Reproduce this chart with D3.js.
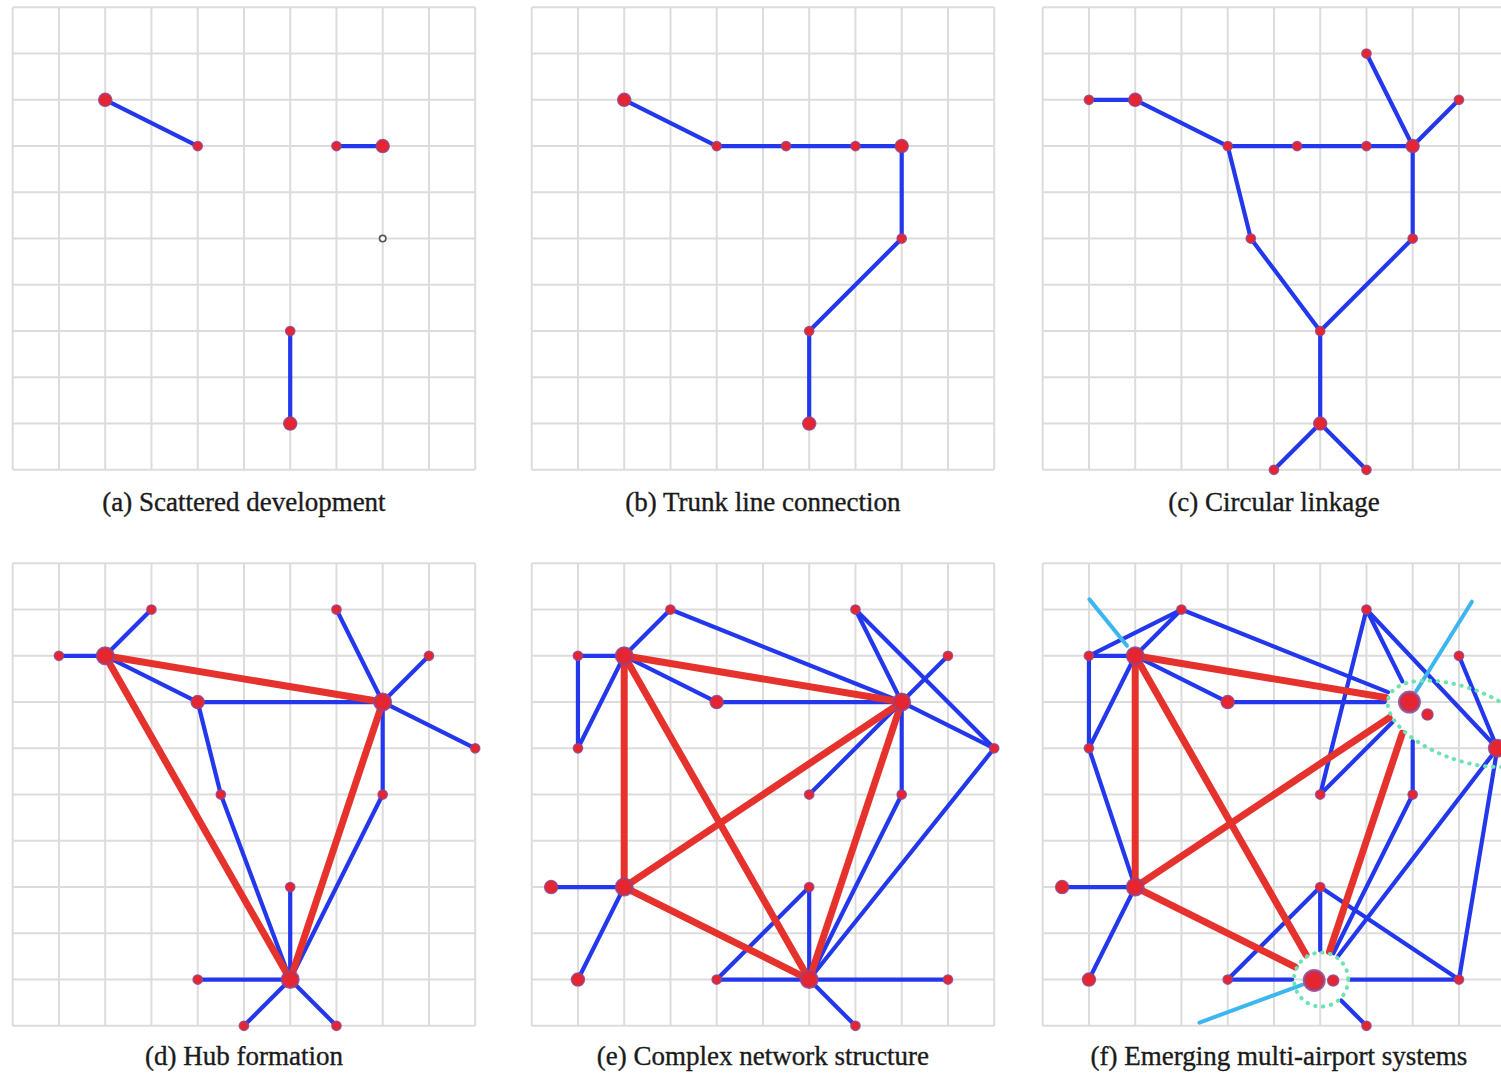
<!DOCTYPE html>
<html><head><meta charset="utf-8">
<script src="https://cdn.jsdelivr.net/npm/d3@7"></script>
<style>html,body{margin:0;padding:0;background:#fff;overflow:hidden}</style>
</head><body>
<svg id="chart" width="1501" height="1074"></svg>
<script>
// ---------------- DATA ----------------
const panelTitles = [
  "(a) Scattered development",
  "(b) Trunk line connection",
  "(c) Circular linkage",
  "(d) Hub formation",
  "(e) Complex network structure",
  "(f) Emerging multi-airport systems"
];
const gridTicks = d3.range(0, 11);

// nodes: [col, row, size class]
const nodesA = [[2,2,"m"],[4,3,"s"],[7,3,"s"],[8,3,"m"],[6,7,"s"],[6,9,"m"]];
const hollowA = [[8,5]];
const blueA = [[2,2,4,3],[7,3,8,3],[6,7,6,9]];

const nodesB = [[2,2,"m"],[4,3,"s"],[5.5,3,"s"],[7,3,"s"],[8,3,"m"],[8,5,"s"],[6,7,"s"],[6,9,"m"]];
const blueB = [[2,2,4,3],[4,3,5.5,3],[5.5,3,7,3],[7,3,8,3],[8,3,8,5],[8,5,6,7],[6,7,6,9]];

const nodesC = [[1,2,"s"],[2,2,"m"],[4,3,"s"],[5.5,3,"s"],[7,3,"s"],[8,3,"m"],[7,1,"s"],[9,2,"s"],
  [4.5,5,"s"],[8,5,"s"],[6,7,"s"],[6,9,"m"],[5,10,"s"],[7,10,"s"]];
const blueC = [[1,2,2,2],[2,2,4,3],[4,3,5.5,3],[5.5,3,7,3],[7,3,8,3],[7,1,8,3],[9,2,8,3],
  [4,3,4.5,5],[8,3,8,5],[4.5,5,6,7],[8,5,6,7],[6,7,6,9],[6,9,5,10],[6,9,7,10]];

const nodesD = [[2,2,"l"],[1,2,"s"],[3,1,"s"],[4,3,"m"],[8,3,"l"],[7,1,"s"],[9,2,"s"],[10,4,"s"],
  [8,5,"s"],[4.5,5,"s"],[6,9,"l"],[6,7,"s"],[4,9,"s"],[5,10,"s"],[7,10,"s"]];
const blueD = [[2,2,1,2],[2,2,3,1],[2,2,4,3],[4,3,8,3],[8,3,7,1],[8,3,9,2],[8,3,10,4],[8,3,8,5],
  [4,3,4.5,5],[4.5,5,6,9],[8,5,6,9],[6,7,6,9],[4,9,6,9],[5,10,6,9],[7,10,6,9]];
const redD = [[2,2,8,3],[2,2,6,9],[8,3,6,9]];

const nodesE = [[2,2,"l"],[1,2,"s"],[1,4,"s"],[3,1,"s"],[4,3,"m"],[8,3,"l"],[7,1,"s"],[9,2,"s"],
  [10,4,"s"],[6,5,"s"],[8,5,"s"],[2,7,"l"],[0.42,7,"m"],[1,9,"m"],[6,9,"l"],[6,7,"s"],[4,9,"s"],
  [9,9,"s"],[7,10,"s"]];
const blueE = [[2,2,1,2],[1,2,1,4],[1,4,2,2],[2,2,3,1],[3,1,8,3],[2,2,4,3],[4,3,8,3],[7,1,8,3],
  [7,1,10,4],[9,2,8,3],[8,3,6,5],[8,3,10,4],[8,3,8,5],[8,5,6,9],[10,4,6,9],[2,7,0.42,7],[2,7,1,9],
  [6,7,6,9],[6,7,4,9],[4,9,6,9],[6,9,9,9],[6,9,7,10]];
const redE = [[2,2,8,3],[2,2,2,7],[2,2,6,9],[2,7,8,3],[2,7,6,9],[8,3,6,9]];

const nodesF = [[2,2,"l"],[1,2,"s"],[3,1,"s"],[1,4,"s"],[4,3,"m"],[7.93,3,"xl"],[8.32,3.27,"sat"],
  [7,1,"s"],[9,2,"s"],[6,5,"s"],[8,5,"s"],[9.83,4,"l"],[2,7,"l"],[0.42,7,"m"],[1,9,"m"],[6,7,"s"],
  [4,9,"s"],[5.87,9.02,"xl"],[6.28,9.02,"sat"],[9,9,"s"],[7,10,"s"]];
const blueF = [[2,2,1,2],[2,2,3,1],[1,2,3,1],[1,2,1,4],[1,4,2,2],[1,4,2,7],[2,2,4,3],[4,3,8,3],
  [3,1,8,3],[7,1,8,3],[7,1,6,5],[6,5,8,3],[7,1,9.83,4],[9,2,9.83,4],[8,3,8,5],[8,5,6,9],
  [9.83,4,6,9],[9.83,4,9,9],[2,7,0.42,7],[2,7,1,9],[6,7,4,9],[6,7,6,9],[6,7,9,9],[4,9,6,9],
  [9,9,6,9],[7,10,6,9]];
const redF = [[2,2,8,3],[2,2,2,7],[2,2,6,9],[2,7,8,3],[2,7,6,9],[8,3,6,9]];
const cyanF = [[1.01,0.78,2,2],[9.28,0.83,7.93,3],[3.39,9.93,5.87,9.02]];
// multi-airport clusters: ellipse [cx, cy, rx, ry, rotation°] and circle [cx, cy, r] in grid units
const clusterEllipseF = [9.07, 3.47, 1.69, 0.78, 20];
const clusterCircleF = [6.02, 9.0, 0.585];
const clusterAnchorsF = [[8,3],[6,9]];

// ---------------- LAYOUT / STYLE ----------------
const W = 1501, H = 1074;
const panelSize = 462.5;
const colLeft = [12.7, 531.7, 1042.7];
const rowTop = [7.3, 563.3];
const captionBase = [510.5, 1065];
const captionShift = [0, 0, 0, 0, 0, 5];
const radius = {s:4.6, m:6.5, l:8.5, xl:10, sat:5.5};
const C_BLUE = "#2338ec", C_RED = "#e6322d", C_CYAN = "#3db6ef", C_GREEN = "#6ee3b2";

const svg = d3.select("#chart");

const panels = [
  {nodes:nodesA, blue:blueA, red:[], hollow:hollowA},
  {nodes:nodesB, blue:blueB, red:[]},
  {nodes:nodesC, blue:blueC, red:[]},
  {nodes:nodesD, blue:blueD, red:redD},
  {nodes:nodesE, blue:blueE, red:redE},
  {nodes:nodesF, blue:blueF, red:redF, cyan:cyanF, ellipse:clusterEllipseF, circle:clusterCircleF}
];

panels.forEach((p, k) => {
  const col = k % 3, row = Math.floor(k / 3);
  const x0 = colLeft[col], y0 = rowTop[row];
  const x = d3.scaleLinear().domain([0, 10]).range([x0, x0 + panelSize]);
  const y = d3.scaleLinear().domain([0, 10]).range([y0, y0 + panelSize]);
  const g = svg.append("g");

  // grid
  const gg = g.append("g").attr("stroke", "#dcdcdc").attr("stroke-width", 2);
  gg.selectAll("line.v").data(gridTicks).join("line").attr("class","v")
    .attr("x1", d => x(d)).attr("x2", d => x(d)).attr("y1", y(0)).attr("y2", y(10));
  gg.selectAll("line.h").data(gridTicks).join("line").attr("class","h")
    .attr("y1", d => y(d)).attr("y2", d => y(d)).attr("x1", x(0)).attr("x2", x(10));

  const scalePx = panelSize / 10;
  function trimDist(ax, ay, bx, by) {
    if (!p.ellipse) return 0;
    const isB = clusterAnchorsF[0][0] === ax && clusterAnchorsF[0][1] === ay;
    const isC = clusterAnchorsF[1][0] === ax && clusterAnchorsF[1][1] === ay;
    if (!isB && !isC) return 0;
    const Px = x(ax), Py = y(ay);
    let dx = x(bx) - Px, dy = y(by) - Py;
    const L = Math.hypot(dx, dy); dx /= L; dy /= L;
    if (isB) {
      const [cx, cy, rxg, ryg, ang] = p.ellipse;
      const rx = rxg * scalePx, ry = ryg * scalePx, t = ang * Math.PI / 180;
      const qx = Px - x(cx), qy = Py - y(cy);
      const qu = qx*Math.cos(t) + qy*Math.sin(t), qv = -qx*Math.sin(t) + qy*Math.cos(t);
      const du = dx*Math.cos(t) + dy*Math.sin(t), dv = -dx*Math.sin(t) + dy*Math.cos(t);
      const A = du*du/(rx*rx) + dv*dv/(ry*ry);
      const B = 2*(qu*du/(rx*rx) + qv*dv/(ry*ry));
      const Cc = qu*qu/(rx*rx) + qv*qv/(ry*ry) - 1;
      return (-B + Math.sqrt(B*B - 4*A*Cc)) / (2*A) + 3;
    } else {
      const [cx, cy, rg] = p.circle;
      const r = rg * scalePx;
      const qx = Px - x(cx), qy = Py - y(cy);
      const B = 2*(qx*dx + qy*dy), Cc = qx*qx + qy*qy - r*r;
      return (-B + Math.sqrt(B*B - 4*Cc)) / 2 + 2;
    }
  }
  function seg(e) {
    const [ax, ay, bx, by] = e;
    let X1 = x(ax), Y1 = y(ay), X2 = x(bx), Y2 = y(by);
    const L = Math.hypot(X2 - X1, Y2 - Y1);
    const ux = (X2 - X1) / L, uy = (Y2 - Y1) / L;
    const t1 = trimDist(ax, ay, bx, by), t2 = trimDist(bx, by, ax, ay);
    return [X1 + ux*t1, Y1 + uy*t1, X2 - ux*t2, Y2 - uy*t2];
  }

  g.append("g").selectAll("line").data(p.blue.map(seg)).join("line")
    .attr("x1", d => d[0]).attr("y1", d => d[1]).attr("x2", d => d[2]).attr("y2", d => d[3])
    .attr("stroke", C_BLUE).attr("stroke-width", 4.2).attr("stroke-linecap", "round");
  g.append("g").selectAll("line").data(p.red.map(seg)).join("line")
    .attr("x1", d => d[0]).attr("y1", d => d[1]).attr("x2", d => d[2]).attr("y2", d => d[3])
    .attr("stroke", C_RED).attr("stroke-width", 7).attr("stroke-linecap", "round");

  if (p.cyan) {
    g.append("g").selectAll("line").data(p.cyan.map(e => {
      const X1 = x(e[0]), Y1 = y(e[1]), X2 = x(e[2]), Y2 = y(e[3]);
      const L = Math.hypot(X2 - X1, Y2 - Y1);
      return [X1, Y1, X2 - (X2 - X1)/L*13, Y2 - (Y2 - Y1)/L*13];
    })).join("line")
      .attr("x1", d => d[0]).attr("y1", d => d[1]).attr("x2", d => d[2]).attr("y2", d => d[3])
      .attr("stroke", C_CYAN).attr("stroke-width", 4).attr("stroke-linecap", "round");
  }

  if (p.ellipse) {
    const [cx, cy, rxg, ryg, ang] = p.ellipse;
    g.append("ellipse").attr("cx", 0).attr("cy", 0)
      .attr("rx", rxg*scalePx).attr("ry", ryg*scalePx)
      .attr("transform", `translate(${x(cx)},${y(cy)}) rotate(${ang})`)
      .attr("fill", "none").attr("stroke", C_GREEN).attr("stroke-width", 4)
      .attr("stroke-dasharray", "0.5 7.5").attr("stroke-linecap", "round");
    const [ccx, ccy, rg] = p.circle;
    g.append("circle").attr("cx", x(ccx)).attr("cy", y(ccy)).attr("r", rg*scalePx)
      .attr("fill", "none").attr("stroke", C_GREEN).attr("stroke-width", 4)
      .attr("stroke-dasharray", "0.5 7.5").attr("stroke-linecap", "round");
  }

  if (p.hollow) {
    g.append("g").selectAll("circle").data(p.hollow).join("circle")
      .attr("cx", d => x(d[0])).attr("cy", d => y(d[1])).attr("r", 3.2)
      .attr("fill", "#fff").attr("stroke", "#555").attr("stroke-width", 1.6);
  }

  g.append("g").selectAll("circle").data(p.nodes).join("circle")
    .attr("cx", d => x(d[0])).attr("cy", d => y(d[1])).attr("r", d => radius[d[2]])
    .attr("fill", "#e52630")
    .attr("stroke", "#93438a").attr("stroke-opacity", 0.85)
    .attr("stroke-width", d => d[2] === "xl" ? 3 : (d[2] === "l" ? 2 : 1.5));

  svg.append("text")
    .attr("x", x(5) + captionShift[k]).attr("y", captionBase[row])
    .attr("text-anchor", "middle")
    .attr("font-family", "'Liberation Serif', 'Times New Roman', serif")
    .attr("font-size", 27).attr("fill", "#1a1a1a")
    .attr("stroke", "#1a1a1a").attr("stroke-width", 0.35)
    .text(panelTitles[k]);
});
</script>
</body></html>
